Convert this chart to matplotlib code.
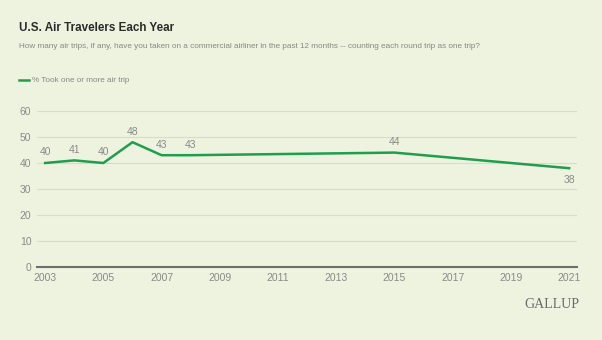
import matplotlib
matplotlib.use("Agg")
import matplotlib.pyplot as plt
from matplotlib import font_manager

years = [2003, 2004, 2005, 2006, 2007, 2008, 2015, 2021]
pct_flew = [40, 41, 40, 48, 43, 43, 44, 38]
x_ticks = list(range(2003, 2022, 2))
y_ticks = [0, 10, 20, 30, 40, 50, 60]

bg = "#EDF3DE"
green = "#1F9E50"
gray = "#8A8A8A"

names = sorted({f.name for f in font_manager.fontManager.ttflist})
narrow = "Liberation Sans Narrow" if "Liberation Sans Narrow" in names else "Liberation Sans"
plt.rcParams["font.family"] = [narrow, "DejaVu Sans"]

fig = plt.figure(figsize=(6.02, 3.40), dpi=100, facecolor=bg)
ax = fig.add_axes([37 / 602, 1 - 267 / 340, 540 / 602, 156 / 340])
ax.set_facecolor(bg)

ax.plot(years, pct_flew, color=green, lw=1.8, clip_on=False, zorder=3)

# labels on points
for yr, v in zip(years, pct_flew):
    if yr == 2021:
        ax.annotate(str(v), (yr, v), xytext=(0, -5), textcoords="offset points",
                    ha="center", va="top", fontsize=7.5, color=gray)
    else:
        ax.annotate(str(v), (yr, v), xytext=(0, 4), textcoords="offset points",
                    ha="center", va="bottom", fontsize=7.5, color=gray)

ax.set_xlim(2002.72, 2021.27)
ax.set_ylim(0, 60)
ax.set_xticks(x_ticks)
ax.set_yticks(y_ticks)
ax.tick_params(length=0, labelsize=7.5, labelcolor=gray, pad=4)
ax.grid(axis="y", color="#D6DEC8", lw=0.8)
ax.set_axisbelow(True)
for s in ["top", "right", "left"]:
    ax.spines[s].set_visible(False)
ax.spines["bottom"].set_color("#6E6E6E")
ax.spines["bottom"].set_linewidth(1.5)

fig.text(19 / 602, 1 - 28 / 340, "U.S. Air Travelers Each Year", fontsize=8.4,
         fontweight="bold", color="#2B2B2B", va="center")
fig.text(19 / 602, 1 - 47 / 340,
         "How many air trips, if any, have you taken on a commercial airliner in the past 12 months -- counting each round trip as one trip?",
         fontsize=5.9, color="#888888", va="center")
fig.lines.append(plt.Line2D([19 / 602, 29 / 602], [1 - 80 / 340] * 2, color=green, lw=1.8,
                            transform=fig.transFigure))
fig.text(32 / 602, 1 - 80 / 340, "% Took one or more air trip", fontsize=5.9,
         color="#888888", va="center")
fig.text(579 / 602, 1 - 304 / 340, "GALLUP", fontsize=10, family="Liberation Serif",
         color="#6A6A6A", ha="right", va="center")

fig.savefig("out.png", dpi=100, facecolor=bg)
